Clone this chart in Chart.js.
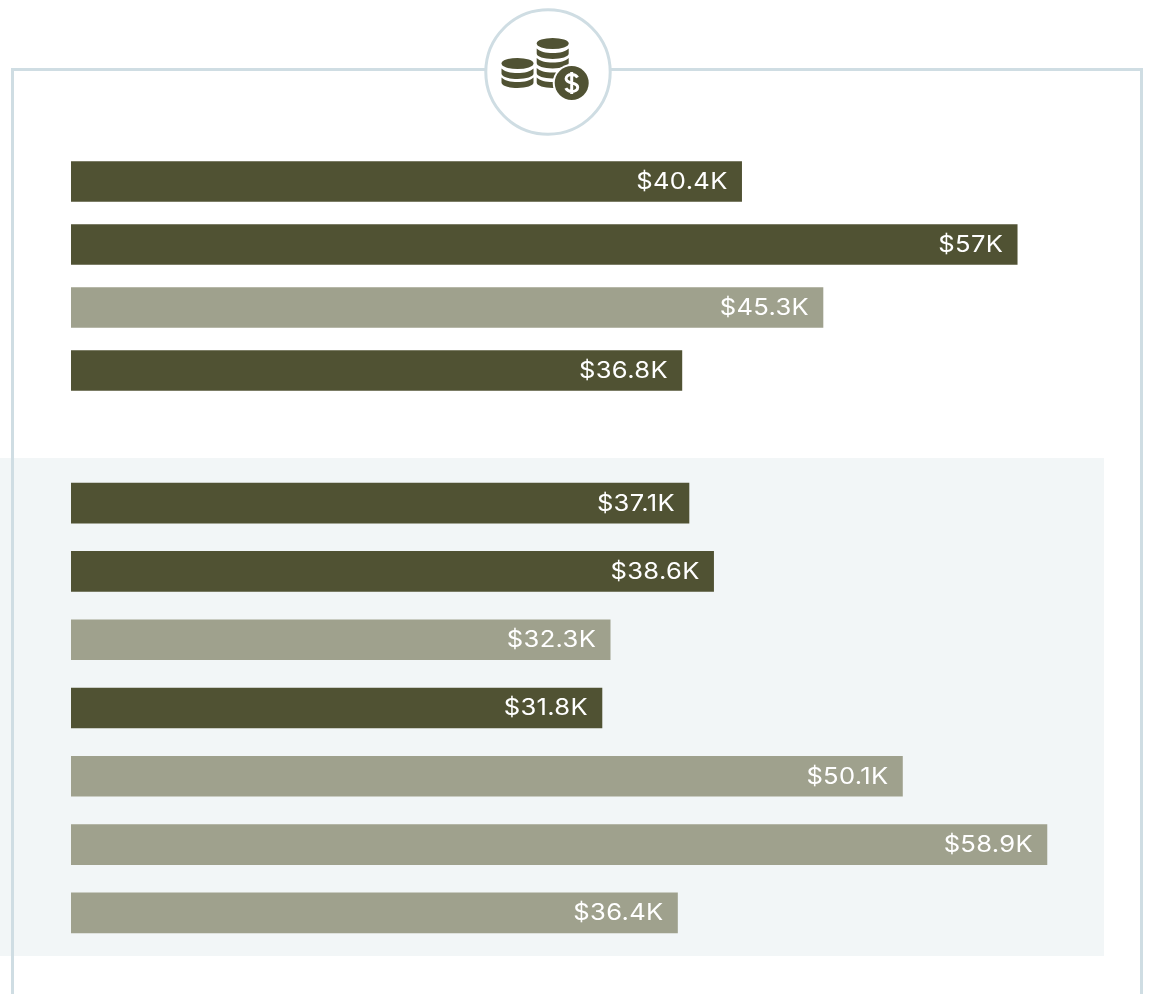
<!DOCTYPE html>
<html>
<head>
<meta charset="utf-8">
<script src="https://cdn.jsdelivr.net/npm/chart.js@4"></script>
<style>
html,body{margin:0;padding:0;background:#fff;overflow:hidden}
#page{position:relative;width:1156px;height:994px;overflow:hidden;background:#fff}
#band{position:absolute;left:0;top:458px;width:1104px;height:498px;background:#f2f6f7}
#frame{position:absolute;left:11px;top:68px;width:1126px;height:960px;border:3px solid #cfdde3}
#icon{position:absolute;left:480px;top:4px}
.box{position:absolute;left:71px;width:1000px}
#topBox{top:150px;height:252px}
#bottomBox{top:469px;height:478px}
</style>
</head>
<body>
<div id="page">
  <div id="band"></div>
  <div id="frame"></div>
  <svg id="icon" width="136" height="136" viewBox="480 4 136 136">
    <circle cx="548" cy="72" r="62.2" fill="#fff" stroke="#cfdde3" stroke-width="3"/>
    <g fill="#505233">
      <ellipse cx="517.5" cy="63.5" rx="16" ry="5.6"/>
      <path d="M501.5 68.5c3 3.2 9 4.6 16 4.6s13-1.4 16-4.6v5c0 3.2-7.2 5.4-16 5.4s-16-2.2-16-5.4z"/>
      <path d="M501.5 77.5c3 3.2 9 4.6 16 4.6s13-1.4 16-4.6v5c0 3.2-7.2 5.4-16 5.4s-16-2.2-16-5.4z"/>
      <ellipse cx="552.7" cy="43.5" rx="16" ry="5.6"/>
      <path d="M536.7 48.5c3 3.2 9 4.6 16 4.6s13-1.4 16-4.6v5c0 3.2-7.2 5.4-16 5.4s-16-2.2-16-5.4z"/>
      <path d="M536.7 58c3 3.2 9 4.6 16 4.6s13-1.4 16-4.6v5c0 3.2-7.2 5.4-16 5.4s-16-2.2-16-5.4z"/>
      <path d="M536.7 68c3 3.2 9 4.6 16 4.6s13-1.4 16-4.6v5c0 3.2-7.2 5.4-16 5.4s-16-2.2-16-5.4z"/>
      <path d="M536.7 77.5c3 3.2 9 4.6 16 4.6s13-1.4 16-4.6v5c0 3.2-7.2 5.4-16 5.4s-16-2.2-16-5.4z"/>
    </g>
    <circle cx="571.7" cy="83" r="19" fill="#fff"/>
    <circle cx="571.7" cy="83" r="17" fill="#505233"/>
    <path d="M577.5 77.5c-1-2-3.2-3-5.8-3-3.2 0-5.6 1.7-5.6 4.3 0 5.6 11.6 2.8 11.6 8.4 0 2.6-2.5 4.3-5.9 4.3-2.8 0-5-1.2-6-3.3M571.7 72v22" fill="none" stroke="#fff" stroke-width="3"/>
  </svg>
  <div class="box" id="topBox"><canvas id="topChart"></canvas></div>
  <div class="box" id="bottomBox"><canvas id="bottomChart"></canvas></div>
</div>
<script>
const topCategories = ["Row 1", "Row 2", "Row 3", "Row 4"];
const topValues = [40.4, 57, 45.3, 36.8];
const topKinds = ["dark", "dark", "light", "dark"];

const bottomCategories = ["Row 5", "Row 6", "Row 7", "Row 8", "Row 9", "Row 10", "Row 11"];
const bottomValues = [37.1, 38.6, 32.3, 31.8, 50.1, 58.9, 36.4];
const bottomKinds = ["dark", "dark", "light", "dark", "light", "light", "light"];

const COLORS = { dark: "#505233", light: "#9fa18d" };
const TEXT_STRETCH = 1.11;

const valueLabels = {
  id: "valueLabels",
  afterDatasetsDraw(chart) {
    const { ctx } = chart;
    const meta = chart.getDatasetMeta(0);
    const values = chart.data.datasets[0].data;
    meta.data.forEach((bar, i) => {
      ctx.save();
      ctx.font = '400 23px Inter, "Open Sans", sans-serif';
      ctx.letterSpacing = "0.3px";
      ctx.fillStyle = "#ffffff";
      ctx.textAlign = "right";
      ctx.textBaseline = "middle";
      ctx.translate(bar.x - 14, bar.y + 0.5);
      ctx.scale(TEXT_STRETCH, 1);
      ctx.fillText("$" + values[i] + "K", 0, 0);
      ctx.restore();
    });
  }
};

function build(id, categories, values, kinds, pxPerK, axisMin) {
  return new Chart(document.getElementById(id), {
    type: "bar",
    data: {
      labels: categories,
      datasets: [{
        data: values,
        base: axisMin,
        backgroundColor: kinds.map(k => COLORS[k]),
        borderWidth: 0,
        barThickness: 40
      }]
    },
    options: {
      indexAxis: "y",
      responsive: true,
      maintainAspectRatio: false,
      animation: false,
      layout: { padding: 0 },
      plugins: { legend: { display: false }, tooltip: { enabled: false }, title: { display: false } },
      scales: {
        x: { display: false, min: axisMin, max: axisMin + 1000 / pxPerK },
        y: { display: false }
      }
    },
    plugins: [valueLabels]
  });
}

build("topChart", topCategories, topValues, topKinds, 16.6, 0);
build("bottomChart", bottomCategories, bottomValues, bottomKinds, 16.42, -0.536);
</script>
</body>
</html>
